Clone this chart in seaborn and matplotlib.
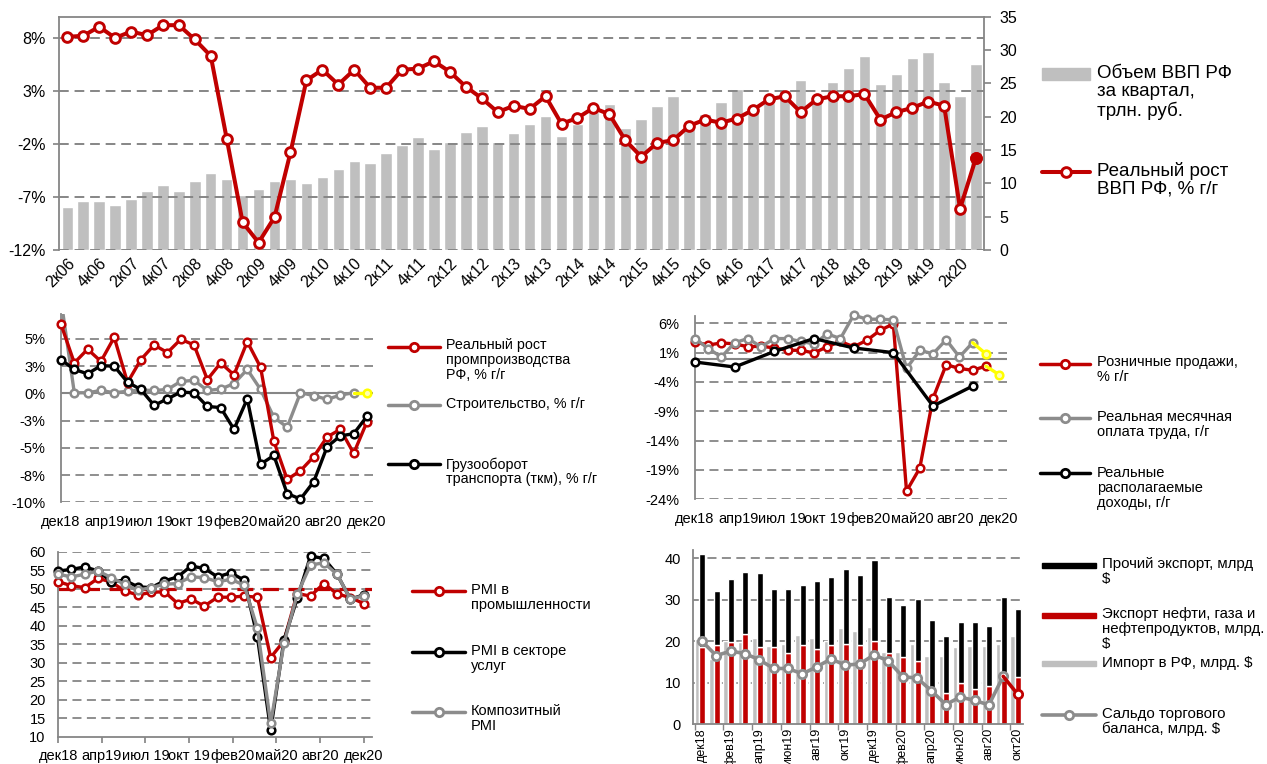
import numpy as np
import matplotlib
matplotlib.use("Agg")
import matplotlib.pyplot as plt
from matplotlib.lines import Line2D
from matplotlib.patches import Rectangle
import seaborn as sns

# ---- данные ----
quarters = [f"{q}к{y:02d}" for y in range(6, 21) for q in range(1, 5)][1:-1]  # 2к06 .. 3к20
gdp_volume = [6.4, 7.35, 7.35, 6.75, 7.7, 8.85, 9.75, 8.85, 10.35, 11.5,
              10.6, 8.25, 9.15, 10.35, 10.6, 10.05, 10.9, 12.1, 13.3, 13.0,
              14.5, 15.75, 16.9, 15.1, 16.25, 17.75, 18.65, 16.25, 17.5, 18.9,
              20.1, 17.15, 18.9, 20.75, 21.9, 18.35, 19.6, 21.6, 23.1, 18.4,
              20.35, 22.25, 24.1, 20.8, 22.0, 24.0, 25.5, 22.3, 25.25, 27.25,
              29.1, 24.9, 26.4, 28.75, 29.65, 25.25, 23.1, 27.9]
gdp_growth = [8.1, 8.2, 9.05, 8.0, 8.6, 8.25, 9.2, 9.2, 7.85, 6.3,
              -1.5, -9.4, -11.3, -8.9, -2.8, 4.0, 5.0, 3.6, 5.0, 3.3,
              3.3, 5.0, 5.1, 5.8, 4.8, 3.4, 2.3, 1.0, 1.6, 1.3,
              2.5, -0.1, 0.45, 1.4, 0.8, -1.65, -3.2, -1.9, -1.65, -0.3,
              0.3, 0.0, 0.4, 1.2, 2.2, 2.5, 1.0, 2.2, 2.5, 2.5,
              2.7, 0.3, 1.0, 1.4, 2.0, 1.6, -8.1, -3.3]

month_ticks = ['дек18', 'апр19', 'июл 19', 'окт 19', 'фев20', 'май20', 'авг20', 'дек20']

industry = [6.35, 2.8, 4.06, 2.94, 5.15, 1.0, 3.1, 4.45, 3.75, 4.97, 4.45, 1.27,
            2.8, 1.7, 4.75, 2.4, -4.4, -7.9, -7.1, -5.8, -4.0, -3.3, -5.5, -2.6]
construction = [8.6, 0.06, 0.06, 0.27, 0.06, 0.2, 0.3, 0.27, 0.36, 1.1, 1.2, 0.27,
                0.4, 0.9, 2.2, 0.36, -2.2, -3.1, 0.06, -0.2, -0.55, -0.15, 0.06, 0.06]
freight = [3.1, 2.2, 1.8, 2.55, 2.5, 1.03, 0.36, -1.1, -0.5, 0.12, 0.06, -1.2,
           -1.3, -3.3, -0.5, -6.5, -5.7, -9.2, -9.7, -8.1, -4.9, -3.9, -3.7, -2.1]

retail = [2.8, 2.3, 2.65, 2.5, 2.0, 2.1, 1.8, 1.4, 1.4, 0.95, 2.0, 2.9,
          2.0, 3.1, 4.8, 5.9, -22.6, -18.7, -6.8, -1.05, -1.7, -2.0, -1.3, -2.75]
wages = [3.4, 1.7, 0.26, 2.7, 3.4, 2.0, 3.4, 3.4, 2.9, 2.5, 4.2, 3.4,
         7.4, 6.7, 6.7, 6.6, -1.7, 1.4, 0.8, 3.2, 0.26, 2.7, 0.8]
income_pos = [0, 3, 6, 9, 12, 15, 18, 21]
income = [-0.6, -1.45, 1.2, 3.4, 1.8, 1.0, -8.1, -4.7]

pmi_manuf = [51.9, 50.8, 50.3, 52.8, 51.8, 49.4, 48.3, 49.0, 49.2, 46.0, 47.2, 45.3,
             47.7, 47.7, 48.0, 47.7, 31.4, 35.9, 48.7, 48.0, 51.4, 48.6, 47.6, 46.0]
pmi_serv = [54.8, 55.2, 55.9, 54.8, 51.9, 52.3, 50.5, 50.3, 52.1, 53.2, 56.1, 55.5,
            53.2, 54.3, 52.3, 37.0, 11.8, 36.1, 47.4, 58.8, 58.2, 53.9, 47.2, 48.3]
pmi_comp = [53.9, 53.2, 53.9, 54.8, 53.0, 51.2, 49.6, 50.3, 51.2, 51.4, 53.2, 53.0,
            51.9, 52.5, 51.0, 39.3, 13.6, 35.2, 48.5, 56.4, 57.0, 53.9, 47.2, 48.1]

trade_months = ['дек18', 'янв19', 'фев19', 'мар19', 'апр19', 'май19', 'июн19', 'июл19',
                'авг19', 'сен19', 'окт19', 'ноя19', 'дек19', 'янв20', 'фев20', 'мар20',
                'апр20', 'май20', 'июн20', 'июл20', 'авг20', 'сен20', 'окт20']
exp_oil = [18.5, 19.0, 19.9, 21.8, 18.5, 18.5, 17.2, 19.0, 18.1, 19.0, 19.4, 19.1,
           20.1, 17.1, 16.1, 15.2, 8.6, 7.5, 9.9, 8.5, 9.1, 12.2, 11.4]
exp_other = [22.5, 13.1, 15.1, 15.0, 17.9, 14.2, 15.5, 14.6, 16.4, 16.4, 18.0, 16.9,
             19.6, 13.6, 12.6, 14.9, 16.4, 13.8, 14.7, 16.1, 14.5, 18.5, 16.4]
imports = [20.4, 15.8, 20.0, 19.8, 20.8, 18.9, 19.4, 21.4, 20.8, 20.0, 23.2, 22.4,
           23.3, 17.3, 17.5, 19.3, 16.4, 16.4, 18.5, 18.9, 18.9, 19.3, 21.3]
balance = [20.0, 16.5, 17.6, 17.0, 15.5, 13.4, 13.4, 12.1, 13.8, 15.7, 14.2, 14.5,
           16.7, 15.2, 11.4, 11.1, 8.0, 4.7, 6.5, 5.7, 4.6, 11.5, 7.2]

# ---- оформление ----
sns.set_theme(style="white")
plt.rcParams['font.family'] = ['Liberation Sans', 'DejaVu Sans']

RED = '#C00000'
GRAY = '#8C8C8C'
LGRAY = '#BFBFBF'
AXC = '#868686'
YEL = '#FFFF00'
DASH = (0, (5, 3))

W, H = 1267, 764
fig = plt.figure(figsize=(W / 100, H / 100), dpi=100)


def box(l, t, r, b):
    return [l / W, 1 - b / H, (r - l) / W, (b - t) / H]


def series(ax, x, y, color, lw=2.4, ms=5.5, mew=1.8, mfc='white', **kw):
    sns.lineplot(x=x, y=y, ax=ax, color=color, linewidth=lw, marker='o', markersize=ms,
                 markerfacecolor=mfc, markeredgecolor=color, markeredgewidth=mew,
                 legend=False, **kw)


def clean(ax, keep=('left',)):
    for s in ['left', 'right', 'top', 'bottom']:
        ax.spines[s].set_visible(s in keep)
        ax.spines[s].set_color(AXC)
        ax.spines[s].set_linewidth(1.3)
    ax.set_xlabel('')
    ax.set_ylabel('')


def key_line(x0, x1, y, color, lw=2.5, ms=6, mew=2):
    yy = 1 - y / H
    fig.add_artist(Line2D([x0 / W, x1 / W], [yy, yy], color=color, lw=lw))
    fig.add_artist(Line2D([(x0 + x1) / 2 / W], [yy], marker='o', ms=ms, mfc='white',
                          mec=color, mew=mew))


def key_rect(x0, x1, y, h, color):
    fig.add_artist(Rectangle((x0 / W, 1 - (y + h / 2) / H), (x1 - x0) / W, h / H,
                             color=color, transform=fig.transFigure))


def key_text(x, y, s, size, ls=1.15):
    em = size * 100 / 72
    fig.text(x / W, 1 - (y - 0.55 * em) / H, s, fontsize=size, va='top', ha='left',
             linespacing=ls, color='black')


# ===== 1. ВВП =====
ax = fig.add_axes(box(59.3, 16.7, 984, 250))
axb = ax.twinx()
ax.set_zorder(axb.get_zorder() + 1)
ax.patch.set_visible(False)
xq = np.arange(len(quarters))
sns.barplot(x=xq, y=gdp_volume, ax=axb, color=LGRAY, saturation=1, width=0.72,
            native_scale=True, errorbar=None)
gdp_ticks = [-12, -7, -2, 3, 8]
for v in gdp_ticks:
    ax.axhline(v, color=AXC, lw=1.4, ls=DASH, zorder=1)
series(ax, xq, gdp_growth, RED, lw=2.9, ms=7, mew=2.1, zorder=4)
series(ax, xq[-1:], gdp_growth[-1:], RED, lw=2.9, ms=7, mew=2.1, mfc=RED, zorder=5)
ax.set_ylim(-12, 10)
axb.set_ylim(0, 35)
ax.set_xlim(-0.5, len(quarters) - 0.5)
ax.set_yticks(gdp_ticks)
ax.set_yticklabels([f"{v}%" for v in gdp_ticks])
axb.set_yticks(range(0, 36, 5))
ax.set_xticks(xq[::2])
ax.set_xticklabels(quarters[::2], rotation=45, ha='right', rotation_mode='anchor')
clean(ax, keep=('left', 'top'))
clean(axb, keep=('right',))
ax.tick_params(axis='y', left=True, length=4, color=AXC, labelsize=11.5, pad=6, labelcolor='black')
axb.tick_params(axis='y', right=True, length=5, color=AXC, labelsize=11.5, pad=6, labelcolor='black')
ax.tick_params(axis='x', bottom=False, length=0, labelsize=11.5, pad=4, labelcolor='black')

key_rect(1042, 1090, 74, 12, LGRAY)
key_text(1097, 75, "Объем ВВП РФ\nза квартал,\nтрлн. руб.", 13.5, 1.1)
key_line(1042, 1090, 172, RED, lw=2.9, ms=7, mew=2.1)
key_text(1097, 172, "Реальный рост\nВВП РФ, % г/г", 13.5, 1.1)

# ===== 2. Промышленность =====
xm = np.arange(len(industry))
tick_pos = np.linspace(0, 23, len(month_ticks))
ax = fig.add_axes(box(61, 313.7, 373, 502.3))
ml_ticks = [-10, -7.5, -5, -2.5, 0, 2.5, 5]
ml_labels = ['-10%', '-8%', '-5%', '-3%', '0%', '3%', '5%']
for v in ml_ticks:
    if v != 0:
        ax.axhline(v, color=AXC, lw=1.3, ls=DASH, zorder=1)
ax.axhline(0, color=AXC, lw=1.5, zorder=1)
series(ax, xm[:-1], construction[:-1], GRAY, zorder=3)
series(ax, xm[-2:], construction[-2:], YEL, mfc='#FFFFB0', markevery=[1], zorder=3)
series(ax, xm, industry, RED, zorder=4, clip_on=False)
series(ax, xm, freight, 'black', zorder=5, clip_on=False)
ax.set_ylim(-10, 7.32)
ax.set_xlim(0, 23.45)
ax.set_yticks(ml_ticks)
ax.set_yticklabels(ml_labels)
ax.set_xticks(tick_pos)
ax.set_xticklabels(month_ticks)
clean(ax)
ax.tick_params(axis='y', length=0, labelsize=10.5, pad=11, labelcolor='black')
ax.tick_params(axis='x', length=0, labelsize=10.5, pad=9, labelcolor='black')

key_line(388, 440, 346.7, RED)
key_text(446, 346, "Реальный рост\nпромпроизводства\nРФ, % г/г", 10.3, 1.08)
key_line(388, 440, 405, GRAY)
key_text(446, 405, "Строительство, % г/г", 10.3)
key_line(388, 440, 464, 'black')
key_text(446, 465, "Грузооборот\nтранспорта (ткм), % г/г", 10.3, 1.08)

# ===== 3. Потребление =====
ax = fig.add_axes(box(695, 316.5, 1007, 499.3))
mr_ticks = [-24, -19, -14, -9, -4, 1, 6]
for v in mr_ticks:
    ax.axhline(v, color=AXC, lw=1.3, ls=DASH, zorder=1)
ax.axhline(0, color=AXC, lw=1.5, zorder=1)
series(ax, xm[:-1], retail[:-1], RED, zorder=3, clip_on=False)
series(ax, xm[-2:], retail[-2:], YEL, mfc='#FFFFB0', markevery=[1], zorder=3)
xw = np.arange(len(wages))
series(ax, xw[:-1], wages[:-1], GRAY, zorder=4, clip_on=False)
series(ax, xw[-2:], wages[-2:], YEL, mfc='#FFFFB0', markevery=[1], zorder=4)
series(ax, income_pos, income, 'black', zorder=5, clip_on=False)
ax.set_ylim(-24, 7.16)
ax.set_xlim(0, 23.6)
ax.set_yticks(mr_ticks)
ax.set_yticklabels([f"{v}%" for v in mr_ticks])
ax.set_xticks(np.linspace(0, 23, len(month_ticks)))
ax.set_xticklabels(month_ticks)
clean(ax)
ax.tick_params(axis='y', length=0, labelsize=10.5, pad=11, labelcolor='black')
ax.tick_params(axis='x', length=0, labelsize=10.5, pad=9, labelcolor='black')

key_line(1040, 1090, 364, RED)
key_text(1097, 363, "Розничные продажи,\n% г/г", 10.5, 1.08)
key_line(1040, 1090, 418, GRAY)
key_text(1097, 418, "Реальная месячная\nоплата труда, г/г", 10.5, 1.08)
key_line(1040, 1090, 473, 'black')
key_text(1097, 474, "Реальные\nрасполагаемые\nдоходы, г/г", 10.5, 1.08)

# ===== 4. PMI =====
ax = fig.add_axes(box(58.2, 551.7, 371.6, 736.7))
for v in range(15, 61, 5):
    ax.axhline(v, color=AXC, lw=1.3, ls=DASH, zorder=1)
ax.axhline(50, color=RED, lw=2.3, ls=(0, (5, 3)), zorder=2)
xp = np.arange(len(pmi_manuf))
series(ax, xp, pmi_manuf, RED, zorder=3, clip_on=False)
series(ax, xp, pmi_serv, 'black', zorder=4, clip_on=False)
series(ax, xp, pmi_comp, GRAY, zorder=5, clip_on=False)
ax.set_ylim(10, 60)
ax.set_xlim(0, 23.6)
ax.set_yticks(range(10, 61, 5))
ax.set_xticks(np.linspace(0, 23, len(month_ticks)))
ax.set_xticklabels(month_ticks)
clean(ax, keep=('left', 'bottom'))
ax.tick_params(axis='y', length=0, labelsize=10.5, pad=9, labelcolor='black')
ax.tick_params(axis='x', bottom=True, length=4, color=AXC, labelsize=10.5, pad=5, labelcolor='black')

key_line(412, 465, 591, RED)
key_text(471, 591, "PMI в\nпромышленности", 10.5, 1.12)
key_line(412, 465, 652, 'black')
key_text(471, 652, "PMI в секторе\nуслуг", 10.5, 1.12)
key_line(412, 465, 712, GRAY)
key_text(471, 712, "Композитный\nPMI", 10.5, 1.12)

# ===== 5. Внешняя торговля =====
ax = fig.add_axes(box(693.3, 550, 1023.3, 724))
xt = np.arange(len(trade_months))
for v in [10, 20, 30, 40]:
    ax.axhline(v, color=AXC, lw=1.3, ls=DASH, zorder=0)
ax.bar(xt - 0.35, imports, width=0.32, color=LGRAY, zorder=1)
ax.bar(xt + 0.03, exp_oil, width=0.42, color=RED, zorder=2)
ax.bar(xt + 0.03, exp_other, bottom=exp_oil, width=0.42, color='black', zorder=2)
series(ax, xt[:-1], balance[:-1], GRAY, lw=2.6, ms=6, mew=2, zorder=4)
series(ax, xt[-2:], balance[-2:], RED, lw=2.6, ms=6, mew=2, markevery=[1], zorder=4)
ax.set_ylim(0, 42)
ax.set_xlim(-0.6, 22.4)
ax.set_yticks(range(0, 41, 10))
ax.set_xticks(xt[::2])
ax.set_xticklabels(trade_months[::2], rotation=90, ha='center', va='top')
ax.set_xticks(np.arange(-0.5, len(xt), 2), minor=True)
clean(ax, keep=('left', 'bottom'))
ax.tick_params(axis='y', length=0, labelsize=10.5, pad=9, labelcolor='black')
ax.tick_params(axis='x', which='major', length=0, labelsize=9, pad=3, labelcolor='black')
ax.tick_params(axis='x', which='minor', bottom=True, length=4, color=AXC)

key_rect(1042, 1096, 565.7, 5, 'black')
key_text(1102, 565, "Прочий экспорт, млрд\n$", 10.8, 1.1)
key_rect(1042, 1096, 615, 5, RED)
key_text(1102, 615, "Экспорт нефти, газа и\nнефтепродуктов, млрд.\n$", 10.8, 1.1)
key_rect(1042, 1096, 663.3, 5, LGRAY)
key_text(1102, 664, "Импорт в РФ, млрд. $", 10.8)
key_line(1042, 1096, 715, GRAY, lw=2.6)
key_text(1102, 715, "Сальдо торгового\nбаланса, млрд. $", 10.8, 1.1)

fig.savefig("out.png", dpi=100)
